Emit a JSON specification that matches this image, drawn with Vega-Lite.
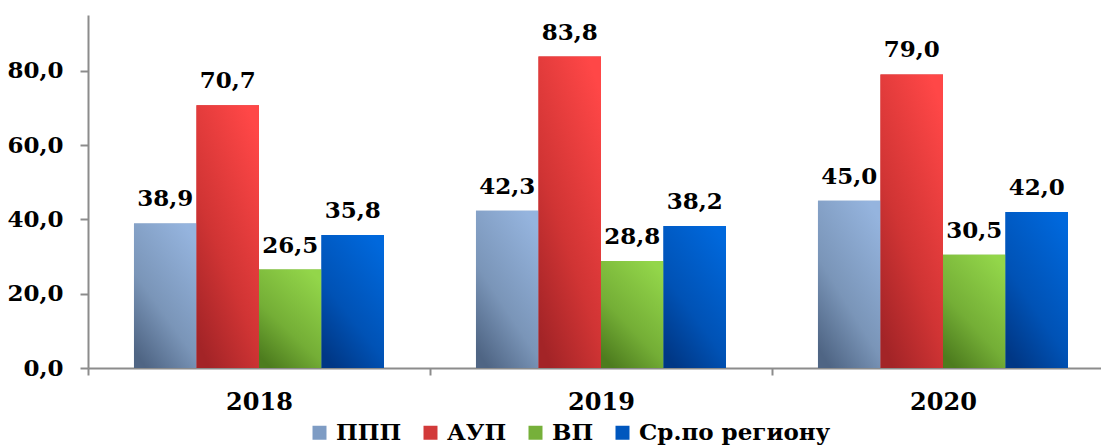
{
  "$schema": "https://vega.github.io/schema/vega-lite/v6.json",
  "width": 1013,
  "height": 353,
  "autosize": {"type": "none"},
  "padding": {"left": 88, "top": 15, "right": 0, "bottom": 80},
  "background": "white",
  "data": {
    "values": [
      {"year": "2018", "s": "ППП", "v": 38.9},
      {"year": "2018", "s": "АУП", "v": 70.7},
      {"year": "2018", "s": "ВП", "v": 26.5},
      {"year": "2018", "s": "Ср.по региону", "v": 35.8},
      {"year": "2019", "s": "ППП", "v": 42.3},
      {"year": "2019", "s": "АУП", "v": 83.8},
      {"year": "2019", "s": "ВП", "v": 28.8},
      {"year": "2019", "s": "Ср.по региону", "v": 38.2},
      {"year": "2020", "s": "ППП", "v": 45.0},
      {"year": "2020", "s": "АУП", "v": 79.0},
      {"year": "2020", "s": "ВП", "v": 30.5},
      {"year": "2020", "s": "Ср.по региону", "v": 42.0}
    ]
  },
  "encoding": {
    "x": {
      "field": "year", "type": "nominal", "sort": null,
      "scale": {"domain": ["2018", "2019", "2020"], "paddingInner": 0.269, "paddingOuter": 0.1155, "align": 0.582},
      "axis": {"title": null, "labelAngle": 0, "tickOffset": -171, "labelOffset": 171, "labelPadding": 15, "tickSize": 7, "labelFontSize": 24}
    },
    "xOffset": {
      "field": "s", "type": "nominal",
      "scale": {"domain": ["ППП", "АУП", "ВП", "Ср.по региону"], "paddingInner": 0, "paddingOuter": 0}
    },
    "y": {
      "field": "v", "type": "quantitative",
      "scale": {"domain": [0, 95], "nice": false, "zero": true},
      "axis": {"title": null, "values": [0, 20, 40, 60, 80], "format": ".1f", "labelPadding": 17, "tickSize": 8, "grid": false}
    }
  },
  "layer": [
    {
      "mark": {"type": "bar", "strokeWidth": 0},
      "encoding": {
        "color": {
          "field": "s", "type": "nominal",
          "scale": {
            "domain": ["ППП", "АУП", "ВП", "Ср.по региону"],
            "range": ["#7E9CC4", "#D23A3A", "#76B03A", "#0057BE"]
          },
          "legend": {
            "title": null, "orient": "none", "legendX": 220, "legendY": 406,
            "direction": "horizontal", "symbolType": "square", "symbolSize": 196,
            "symbolStrokeWidth": 0, "labelOffset": 5, "columnPadding": 17,
            "labelFontSize": 23, "labelFont": "DejaVu Serif", "labelFontWeight": "bold", "labelColor": "#000000", "labelLimit": 400
          }
        }
      }
    },
    {
      "transform": [{"filter": "datum.s == 'ППП'"}],
      "mark": {"type": "bar", "strokeWidth": 0, "color": {"gradient": "linear", "x1": 0.8, "y1": 0, "x2": 0.2, "y2": 1, "stops": [{"offset": 0, "color": "#95B4DE"}, {"offset": 0.6, "color": "#7A95B8"}, {"offset": 1, "color": "#4F6584"}]}}
    },
    {
      "transform": [{"filter": "datum.s == 'АУП'"}],
      "mark": {"type": "bar", "strokeWidth": 0, "color": {"gradient": "linear", "x1": 0.8, "y1": 0, "x2": 0.2, "y2": 1, "stops": [{"offset": 0, "color": "#FF4747"}, {"offset": 0.6, "color": "#D03434"}, {"offset": 1, "color": "#A32427"}]}}
    },
    {
      "transform": [{"filter": "datum.s == 'ВП'"}],
      "mark": {"type": "bar", "strokeWidth": 0, "color": {"gradient": "linear", "x1": 0.8, "y1": 0, "x2": 0.2, "y2": 1, "stops": [{"offset": 0, "color": "#93D64A"}, {"offset": 0.6, "color": "#74AE36"}, {"offset": 1, "color": "#4D7C1E"}]}}
    },
    {
      "transform": [{"filter": "datum.s == 'Ср.по региону'"}],
      "mark": {"type": "bar", "strokeWidth": 0, "color": {"gradient": "linear", "x1": 0.8, "y1": 0, "x2": 0.2, "y2": 1, "stops": [{"offset": 0, "color": "#0068DC"}, {"offset": 0.6, "color": "#0052B5"}, {"offset": 1, "color": "#003785"}]}}
    },
    {
      "mark": {"type": "text", "baseline": "alphabetic", "align": "center", "dy": -17, "font": "DejaVu Serif", "fontWeight": "bold", "fontSize": 23, "color": "#000000"},
      "encoding": {
        "text": {"field": "v", "type": "quantitative", "format": ".1f"}
      }
    }
  ],
  "config": {
    "locale": {"number": {"decimal": ",", "thousands": " ", "grouping": [3], "currency": ["", " ₽"]}},
    "view": {"stroke": null},
    "axis": {
      "labelFont": "DejaVu Serif", "labelFontWeight": "bold", "labelFontSize": 23, "labelColor": "#000000",
      "domainColor": "#8C8C8C", "domainWidth": 2, "tickColor": "#8C8C8C", "tickWidth": 2
    }
  }
}
